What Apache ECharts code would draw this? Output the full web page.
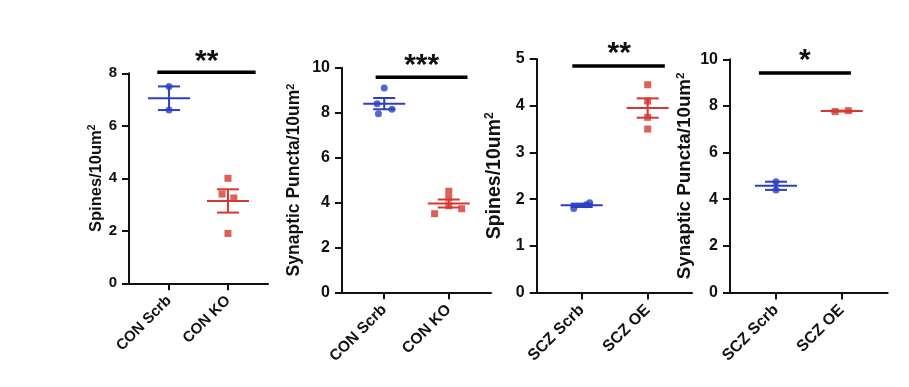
<!DOCTYPE html>
<html><head><meta charset="utf-8">
<script src="https://cdn.jsdelivr.net/npm/echarts@6/dist/echarts.min.js"></script>
<style>html,body{margin:0;padding:0;background:#fff}#c{width:909px;height:387px}</style>
</head><body><div id="c"></div>
<script>
// ---- data ----
const categoriesCON = ['CON Scrb', 'CON KO'];
const categoriesSCZ = ['SCZ Scrb', 'SCZ OE'];
const yTitles = ['Spines/10um', 'Synaptic Puncta/10um', 'Spines/10um', 'Synaptic Puncta/10um'];
const yMax = [8, 10, 5, 10];
const yStep = [2, 2, 1, 2];

const spinesConScrb = [7.5, 6.6];
const spinesConKO = [4.0, 3.4, 3.25, 1.9];
const punctaConScrb = [9.1, 8.4, 8.15, 7.95];
const punctaConKO = [4.5, 4.2, 3.85, 3.72, 3.5];
const spinesSczScrb = [1.8, 1.88, 1.92];
const spinesSczOE = [4.45, 4.1, 3.75, 3.5];
const punctaSczScrb = [4.75, 4.4];
const punctaSczOE = [7.76, 7.8];

// horizontal scatter offsets (category units) of the individual points
const jitSpinesConScrb = [0, 0];
const jitSpinesConKO = [0, -0.1, 0.1, 0];
const jitPunctaConScrb = [0, -0.11, 0.12, -0.09];
const jitPunctaConKO = [0, 0, 0, 0.2, -0.22];
const jitSpinesSczScrb = [-0.12, 0.07, 0.12];
const jitSpinesSczOE = [0, 0, 0, 0];
const jitPunctaSczScrb = [0, 0];
const jitPunctaSczOE = [-0.1, 0.1];

const stars = ['**', '***', '**', '*'];

// ---- layout / style ----
const BLUE = '#2B3EC6';
const RED = '#D6382F';
const FONT = '"Liberation Sans", Arial, sans-serif';

const panels = [
  {cats: categoriesCON, a: spinesConScrb, b: spinesConKO, ja: jitSpinesConScrb, jb: jitSpinesConKO,
   grid: {left: 129, top: 73.3, width: 139, height: 210}, xr: [0.32, 2.68],
   nameGap: 24, nameSize: 16.5, tickSize: 15, catSize: 15,
   br: {x1: 0.8, x2: 2.47, y: 8.04, sx: 1.64, sy: 8.45}},
  {cats: categoriesCON, a: punctaConScrb, b: punctaConKO, ja: jitPunctaConScrb, jb: jitPunctaConKO,
   grid: {left: 342, top: 67.7, width: 149, height: 224.6}, xr: [0.346, 2.654],
   nameGap: 38, nameSize: 17.5, tickSize: 16, catSize: 15.5,
   br: {x1: 0.867, x2: 2.29, y: 9.57, sx: 1.58, sy: 10.1}},
  {cats: categoriesSCZ, a: spinesSczScrb, b: spinesSczOE, ja: jitSpinesSczScrb, jb: jitSpinesSczOE,
   grid: {left: 536.7, top: 59, width: 155.3, height: 233.5}, xr: [0.318, 2.672],
   nameGap: 32, nameSize: 19.5, tickSize: 16, catSize: 16,
   br: {x1: 0.858, x2: 2.26, y: 4.85, sx: 1.57, sy: 5.12}},
  {cats: categoriesSCZ, a: punctaSczScrb, b: punctaSczOE, ja: jitPunctaSczScrb, jb: jitPunctaSczOE,
   grid: {left: 730, top: 59.3, width: 157.7, height: 233.2}, xr: [0.3, 2.7],
   nameGap: 35, nameSize: 18.8, tickSize: 16, catSize: 16,
   br: {x1: 0.74, x2: 2.14, y: 9.41, sx: 1.44, sy: 9.95}}
];

function mean(a) { return a.reduce((s, v) => s + v, 0) / a.length; }
function sem(a) {
  const m = mean(a);
  const v = a.reduce((s, x) => s + (x - m) * (x - m), 0) / (a.length - 1);
  return Math.sqrt(v / a.length);
}

const grids = [], xAxes = [], yAxes = [], series = [];
panels.forEach((p, i) => {
  grids.push(Object.assign({containLabel: false}, p.grid));
  xAxes.push({
    type: 'value', gridIndex: i, min: p.xr[0], max: p.xr[1],
    axisLine: {show: true, lineStyle: {color: '#111', width: 2}},
    splitLine: {show: false},
    axisTick: {show: true, customValues: [1, 2], length: 7, lineStyle: {color: '#111', width: 2}},
    axisLabel: {show: true, customValues: [1, 2], rotate: 45, margin: 15,
      formatter: v => p.cats[Math.round(v) - 1] || '',
      color: '#111', fontWeight: 'bold', fontSize: p.catSize, fontFamily: FONT}
  });
  yAxes.push({
    type: 'value', gridIndex: i, min: 0, max: yMax[i], interval: yStep[i],
    name: '{t|' + yTitles[i] + '}{s|2}', nameLocation: 'middle', nameRotate: 90, nameGap: p.nameGap,
    nameTextStyle: {rich: {
      t: {fontSize: p.nameSize, fontWeight: 'bold', color: '#111', fontFamily: FONT},
      s: {fontSize: p.nameSize * 0.62, fontWeight: 'bold', color: '#111', fontFamily: FONT, verticalAlign: 'top', padding: [0, 0, p.nameSize * 0.45, 0]}
    }},
    axisLine: {show: true, lineStyle: {color: '#111', width: 2}},
    splitLine: {show: false},
    axisTick: {show: true, length: 7, lineStyle: {color: '#111', width: 2}},
    axisLabel: {color: '#111', fontWeight: 'bold', fontSize: p.tickSize, fontFamily: FONT, margin: 12}
  });
  // individual points
  series.push({type: 'scatter', xAxisIndex: i, yAxisIndex: i, symbol: 'circle', symbolSize: 7,
    itemStyle: {color: BLUE}, z: 3,
    data: p.a.map((v, k) => [1 + p.ja[k], v])});
  series.push({type: 'scatter', xAxisIndex: i, yAxisIndex: i, symbol: 'rect', symbolSize: 7,
    itemStyle: {color: RED}, z: 3,
    data: p.b.map((v, k) => [2 + p.jb[k], v])});
  // mean ± SEM
  series.push({type: 'custom', xAxisIndex: i, yAxisIndex: i, z: 4,
    data: [[1, mean(p.a), sem(p.a), 0], [2, mean(p.b), sem(p.b), 1]],
    renderItem: (params, api) => {
      const x = api.value(0), m = api.value(1), s = api.value(2);
      const col = api.value(3) === 0 ? BLUE : RED;
      const c = api.coord([x, m]), t = api.coord([x, m + s]), b = api.coord([x, m - s]);
      const st = {stroke: col, lineWidth: 2};
      return {type: 'group', children: [
        {type: 'line', shape: {x1: c[0] - 21, y1: c[1], x2: c[0] + 21, y2: c[1]}, style: st},
        {type: 'line', shape: {x1: c[0], y1: t[1], x2: c[0], y2: b[1]}, style: st},
        {type: 'line', shape: {x1: c[0] - 11, y1: t[1], x2: c[0] + 11, y2: t[1]}, style: st},
        {type: 'line', shape: {x1: c[0] - 11, y1: b[1], x2: c[0] + 11, y2: b[1]}, style: st}
      ]};
    }});
  // significance bracket
  series.push({type: 'custom', xAxisIndex: i, yAxisIndex: i, z: 5, clip: false,
    data: [[p.br.x1, p.br.x2, p.br.y, p.br.sx, p.br.sy]],
    renderItem: (params, api) => {
      const a = api.coord([api.value(0), api.value(2)]);
      const b = api.coord([api.value(1), api.value(2)]);
      const s = api.coord([api.value(3), api.value(4)]);
      return {type: 'group', children: [
        {type: 'line', shape: {x1: a[0], y1: a[1], x2: b[0], y2: b[1]}, style: {stroke: '#000', lineWidth: 3.5}},
        {type: 'text', x: s[0], y: s[1], style: {text: stars[i], fill: '#111', fontSize: 30, fontWeight: 'bold',
          fontFamily: FONT, align: 'center', verticalAlign: 'middle'}}
      ]};
    }});
});

const chart = echarts.init(document.getElementById('c'), null, {renderer: 'canvas'});
chart.setOption({animation: false, backgroundColor: '#fff', grid: grids, xAxis: xAxes, yAxis: yAxes, series: series});
</script></body></html>
